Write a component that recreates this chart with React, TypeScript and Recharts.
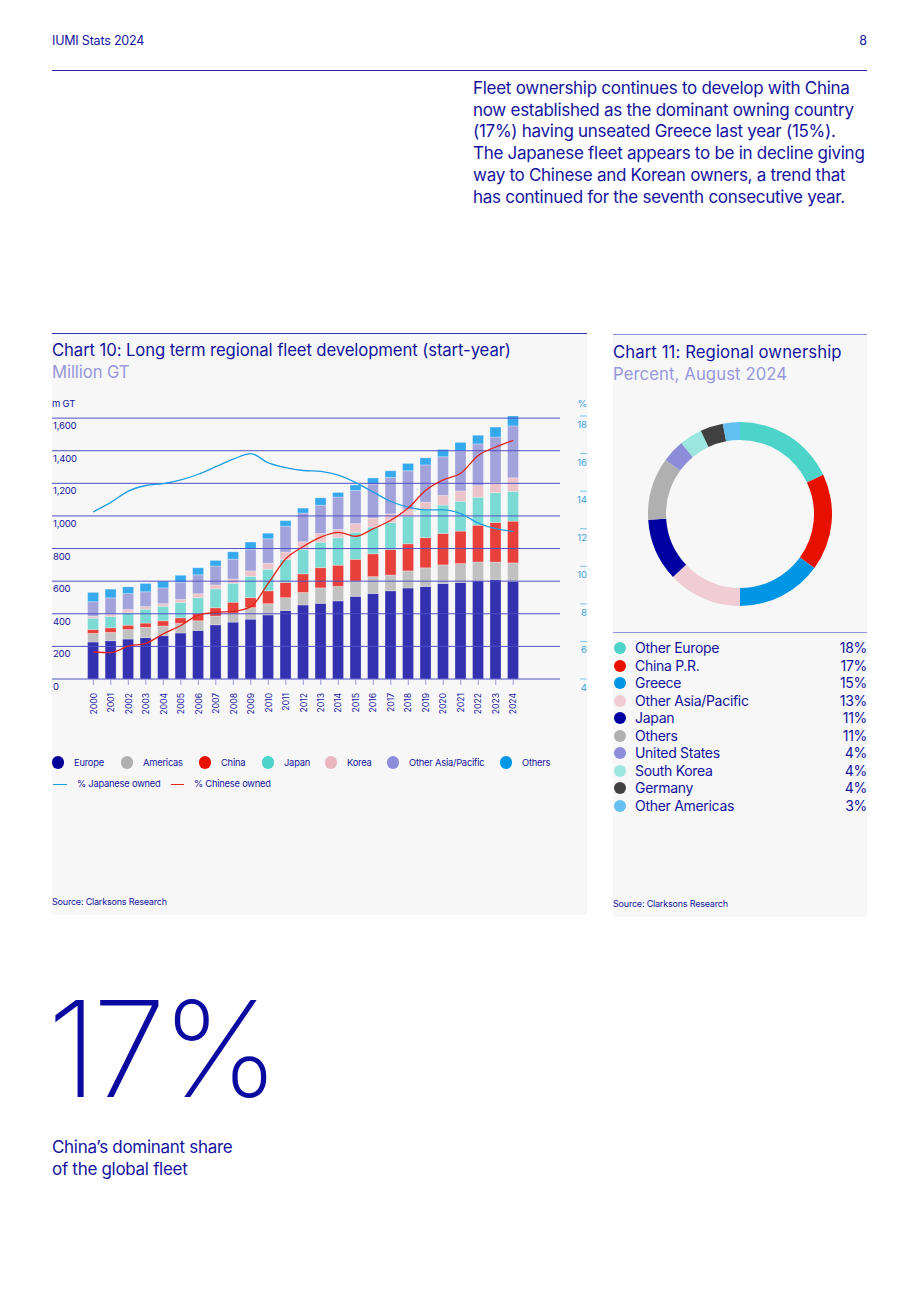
import { ComposedChart, Bar, Line, XAxis, YAxis, ReferenceLine, PieChart, Pie, Cell } from 'recharts'

const NAVY = '#14149e'
const LAV = '#9898dc'
const PANEL = '#f7f7f7'
const FONT = 'Inter, "Noto Sans", sans-serif'

// Chart 10 data (million GT, start-year)
const YEARS = ['2000','2001','2002','2003','2004','2005','2006','2007','2008','2009','2010','2011','2012','2013','2014','2015','2016','2017','2018','2019','2020','2021','2022','2023','2024']
const EUROPE = [227,235,245,254,266,282,298,333,349,367,393,420,454,464,479,507,525,541,558,568,586,592,602,610,598]
const AMERICAS = [53,51,59,63,59,59,59,53,55,71,69,79,77,95,89,93,103,97,105,114,114,116,116,107,114]
const CHINA = [24,28,26,26,32,34,45,51,67,61,79,93,114,124,130,134,140,156,166,185,193,199,225,243,256]
const JAPAN = [69,69,77,85,89,95,97,116,116,130,132,142,150,156,168,166,164,166,168,172,174,183,172,183,183]
const KOREA = [12,14,20,16,16,18,24,24,26,34,37,45,47,53,51,53,55,53,41,45,59,63,71,61,83]
const OTHER_ASIA = [89,101,97,91,97,105,116,116,122,132,150,158,176,174,199,203,209,223,239,229,237,245,256,280,318]
const OTHERS = [57,53,41,51,41,43,43,34,45,45,34,34,30,45,28,34,37,41,45,43,45,53,53,61,61]
const PCT_JAPANESE = [12.9,13.4,14.0,14.3,14.4,14.6,14.9,15.3,15.7,16.0,15.5,15.25,15.1,15.05,14.85,14.45,13.95,13.45,13.15,13.0,13.0,12.8,12.3,12.0,11.85]
const PCT_CHINESE = [5.45,5.4,5.75,5.9,6.4,6.85,7.4,7.55,7.6,7.85,9.1,10.4,11.05,11.55,11.8,11.6,12.0,12.45,13.1,14.05,14.6,14.95,15.9,16.35,16.7]

const LEFT_TICKS = [0,200,400,600,800,1000,1200,1400,1600]
const RIGHT_TICKS = [4,6,8,10,12,14,16,18]

const BAR_SERIES = [
  { key: 'europe', name: 'Europe', fill: '#3431b0', dot: '#000099', values: EUROPE },
  { key: 'americas', name: 'Americas', fill: '#c1c1c1', dot: '#b0b0b0', values: AMERICAS },
  { key: 'china', name: 'China', fill: '#e8403a', dot: '#e81000', values: CHINA },
  { key: 'japan', name: 'Japan', fill: '#7bdad4', dot: '#4dd4c8', values: JAPAN },
  { key: 'korea', name: 'Korea', fill: '#ecc3c8', dot: '#e9b6be', values: KOREA },
  { key: 'otherAsia', name: 'Other Asia/Pacific', fill: '#a3a3dc', dot: '#8c8cd8', values: OTHER_ASIA },
  { key: 'others', name: 'Others', fill: '#36a9ec', dot: '#0096e6', values: OTHERS },
]

// Chart 11 data (percent, August 2024)
const REGIONS = ['Other Europe','China P.R.','Greece','Other Asia/Pacific','Japan','Others','United States','South Korea','Germany','Other Americas']
const SHARES = [18,17,15,13,11,11,4,4,4,3]
const REGION_COLORS = ['#4dd4c8','#e81000','#0096e6','#f0ccd4','#0000a0','#b0b0b0','#8c8cd8','#9ce6e0','#404040','#64c0f0']

const fleetData = YEARS.map((year, i) => {
  const row: Record<string, number | string> = { year, jp: PCT_JAPANESE[i], cn: PCT_CHINESE[i] }
  BAR_SERIES.forEach(s => { row[s.key] = s.values[i] })
  return row
})

const pieData = REGIONS.map((name, i) => ({ name, value: SHARES[i], color: REGION_COLORS[i] }))

const LEGEND_X = [58, 127, 205, 268, 331, 393, 506]

// chart svg starts at page x=20; plot area starts at page x=52
const LeftTick = ({ y, payload }: any) => (
  <text x={33} y={y + 11} fontSize={9.5} fill={NAVY} fontFamily={FONT} letterSpacing={-0.2}>
    {Number(payload.value).toLocaleString('en-US')}
  </text>
)

const RightTick = ({ y, payload }: any) => (
  <g>
    <line x1={560} x2={567} y1={y} y2={y} stroke="#7cc4ee" strokeWidth={1} />
    <text x={567} y={y + 12} textAnchor="end" fontSize={9.5} fill="#3a9fe0" fontFamily={FONT}>
      {payload.value}
    </text>
  </g>
)

const YearTick = ({ x, payload }: any) => (
  <g>
    <line x1={x} x2={x} y1={284} y2={290} stroke="#9a9ae2" strokeWidth={1} />
    <text transform={`translate(${x},298) rotate(-90)`} dy={3.2} textAnchor="end" fontSize={8.6} fill={NAVY} fontFamily={FONT}>
      {payload.value}
    </text>
  </g>
)

function Text({ x, y, children, size, color = NAVY, align = 'left', lh, weight = 400, ls = 0 }: any) {
  const style: any = {
    position: 'absolute', top: y, fontSize: size, color, lineHeight: `${lh ?? size}px`,
    fontWeight: weight, letterSpacing: ls, whiteSpace: 'pre',
  }
  if (align === 'right') style.right = 920 - x
  else style.left = x
  return <div style={style}>{children}</div>
}

export default function App() {
  return (
    <div style={{ position: 'absolute', left: 0, top: 0, width: 920, height: 1302, background: '#fff', fontFamily: FONT, color: NAVY, overflow: 'hidden' }}>
      {/* page header */}
      <Text x={52} y={33} size={12.5} lh={16} ls={-0.2}>IUMI Stats 2024</Text>
      <Text x={867} y={33} size={12.5} lh={16} align="right">8</Text>
      <div style={{ position: 'absolute', left: 52, top: 70, width: 815, height: 1, background: '#2424a6' }} />

      <Text x={473} y={78} size={17} lh={21.7} ls={-0.28}>
        {'Fleet ownership continues to develop with China\nnow established as the dominant owning country\n(17%) having unseated Greece last year (15%).\nThe Japanese fleet appears to be in decline giving\nway to Chinese and Korean owners, a trend that\nhas continued for the seventh consecutive year.'}
      </Text>

      {/* Chart 10 panel */}
      <div style={{ position: 'absolute', left: 52, top: 333, width: 535, height: 582, background: PANEL }} />
      <div style={{ position: 'absolute', left: 52, top: 333, width: 535, height: 1, background: '#3434ac' }} />
      <Text x={52} y={339} size={16.7} lh={22} ls={-0.1}>Chart 10: Long term regional fleet development (start-year)</Text>
      <Text x={52} y={361} size={16.7} lh={22} color={LAV} ls={-0.1}>Million GT</Text>
      <Text x={52} y={398} size={9.5} lh={12} ls={-0.2}>m GT</Text>
      <Text x={587} y={398} size={9.5} lh={12} align="right" color="#3a9fe0">%</Text>

      <div style={{ position: 'absolute', left: 20, top: 395 }}>
        <ComposedChart width={567} height={330} data={fleetData} margin={{ top: 21, right: 0, left: 0, bottom: 6 }} barCategoryGap={0}>
          <XAxis dataKey="year" height={40} padding={{ left: 32.6, right: 38 }} axisLine={false} tickLine={false} tick={<YearTick />} interval={0} />
          <YAxis yAxisId="left" domain={[0, 1600]} ticks={LEFT_TICKS} width={32} axisLine={false} tickLine={false} tick={<LeftTick />} interval={0} />
          <YAxis yAxisId="right" orientation="right" domain={[4, 18]} ticks={RIGHT_TICKS} width={27} axisLine={false} tickLine={false} tick={<RightTick />} interval={0} />
          {LEFT_TICKS.map(v => (
            <ReferenceLine key={v} y={v} yAxisId="left" stroke="#5050c6" strokeWidth={1} />
          ))}
          {BAR_SERIES.map(s => (
            <Bar key={s.key} dataKey={s.key} name={s.name} stackId="fleet" yAxisId="left" fill={s.fill} barSize={11}
              stroke="rgba(255,255,255,0.45)" strokeWidth={0.6} isAnimationActive={false} />
          ))}
          <Line yAxisId="right" type="monotone" dataKey="jp" stroke="#1d9ee4" strokeWidth={1.3} dot={false} isAnimationActive={false} />
          <Line yAxisId="right" type="monotone" dataKey="cn" stroke="#e2231a" strokeWidth={1.3} dot={false} isAnimationActive={false} />
        </ComposedChart>
      </div>

      {/* Chart 10 legend */}
      {BAR_SERIES.map((s, i) => (
        <div key={s.key}>
          <div style={{ position: 'absolute', left: LEGEND_X[i] - 6.3, top: 762.7 - 6.3, width: 12.6, height: 12.6, borderRadius: '50%', background: s.dot }} />
          <Text x={LEGEND_X[i] + 16} y={756.7} size={9.3} lh={12} ls={-0.2}>{s.name}</Text>
        </div>
      ))}
      <div style={{ position: 'absolute', left: 53, top: 783.5, width: 14, height: 1.6, background: '#1d9ee4' }} />
      <Text x={77} y={778.3} size={9.3} lh={12} ls={-0.2}>% Japanese owned</Text>
      <div style={{ position: 'absolute', left: 171, top: 783.5, width: 13, height: 1.6, background: '#e2231a' }} />
      <Text x={194} y={778.3} size={9.3} lh={12} ls={-0.2}>% Chinese owned</Text>
      <Text x={52} y={896} size={9} lh={12} ls={-0.2}>Source: Clarksons Research</Text>

      {/* Chart 11 panel */}
      <div style={{ position: 'absolute', left: 613, top: 334, width: 254, height: 583, background: PANEL }} />
      <div style={{ position: 'absolute', left: 613, top: 334, width: 254, height: 1, background: '#8a8ad6' }} />
      <Text x={613} y={341} size={16.7} lh={22} ls={0.1}>Chart 11: Regional ownership</Text>
      <Text x={613} y={363} size={16.7} lh={22} color={LAV} ls={0.1}>Percent, August 2024</Text>

      <div style={{ position: 'absolute', left: 613, top: 399 }}>
        <PieChart width={254} height={230} margin={{ top: 0, right: 0, bottom: 0, left: 0 }}>
          <Pie data={pieData} dataKey="value" nameKey="name" cx={127} cy={115} innerRadius={74} outerRadius={92}
            startAngle={90} endAngle={-270} stroke="none" isAnimationActive={false}>
            {pieData.map(d => <Cell key={d.name} fill={d.color} />)}
          </Pie>
        </PieChart>
      </div>

      <div style={{ position: 'absolute', left: 613, top: 632, width: 254, height: 1.3, background: '#9292d8' }} />
      {pieData.map((d, i) => (
        <div key={d.name}>
          <div style={{ position: 'absolute', left: 614, top: 648.3 + i * 17.52 - 6, width: 12, height: 12, borderRadius: '50%', background: d.color }} />
          <Text x={635} y={648.3 + i * 17.52 - 9} size={14} lh={18} ls={-0.3}>{d.name}</Text>
          <Text x={867} y={648.3 + i * 17.52 - 9} size={14} lh={18} align="right" ls={-0.3}>{d.value}%</Text>
        </div>
      ))}
      <Text x={613} y={898} size={9} lh={12} ls={-0.2}>Source: Clarksons Research</Text>

      {/* Highlight */}
      <Text x={47} y={982} size={133} lh={133} weight={200} ls={-5} color="#0a0aa0">17%</Text>
      <Text x={52} y={1136} size={17} lh={22} ls={-0.3}>{"China\u2019s dominant share\nof the global fleet"}</Text>
    </div>
  )
}
